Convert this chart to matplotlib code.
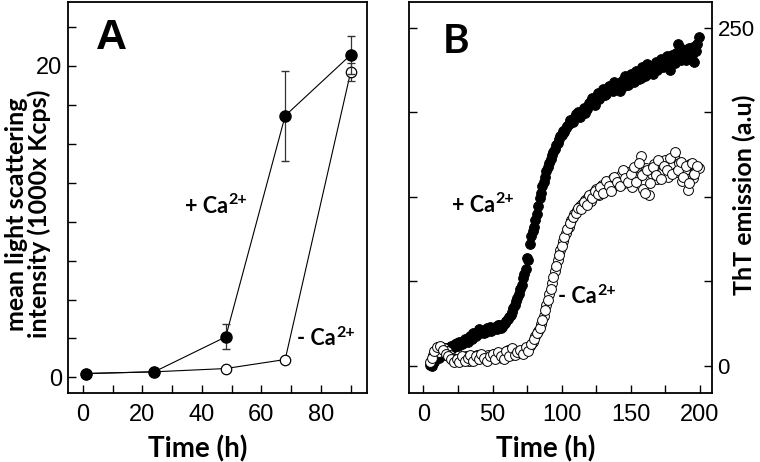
import matplotlib
matplotlib.use('Agg')
import matplotlib.pyplot as plt

# Panel A: mean light scattering intensity
time_a = [1, 24, 48, 68, 90]
plus_a = [0.25, 0.36, 2.6, 16.8, 20.7]
plus_a_err = [0.05, 0.05, 0.8, 2.9, 1.2]
minus_a = [0.25, 0.36, 0.57, 1.15, 19.6]
minus_a_err = [0.05, 0.05, 0.1, 0.1, 0.6]

# Panel B: ThT emission, read at odd and even hours
time_b_odd = [5, 7, 9, 11, 13, 15, 17, 19, 21, 23, 25, 27, 29, 31, 33, 35, 37, 39, 41, 43,
              45, 47, 49, 51, 53, 55, 57, 59, 61, 63, 65, 67, 69, 71, 73, 75, 77, 79, 81, 83,
              85, 87, 89, 91, 93, 95, 97, 99, 101, 103, 105, 107, 109, 111, 113, 115, 117, 119, 121, 123,
              125, 127, 129, 131, 133, 135, 137, 139, 141, 143, 145, 147, 149, 151, 153, 155, 157, 159, 161, 163,
              165, 167, 169, 171, 173, 175, 177, 179, 181, 183, 185, 187, 189, 191, 193, 195, 197, 199]
plus_b_odd = [1, 4, 8, 6, 10, 12, 11, 14, 13, 16, 15, 18, 17, 19, 21, 20, 23, 25, 24, 26,
              25, 27, 26, 28, 27, 30, 29, 32, 35, 38, 43, 48, 53, 60, 68, 80, 90, 100, 108, 118,
              128, 136, 144, 150, 156, 160, 165, 170, 174, 176, 179, 181, 183, 185, 184, 188, 187, 192, 196, 195,
              199, 197, 202, 200, 204, 206, 203, 208, 205, 210, 207, 212, 209, 214, 211, 216, 213, 219, 215, 220,
              217, 222, 219, 224, 221, 226, 223, 228, 225, 231, 227, 234, 229, 232, 228, 236, 233, 243]
minus_b_odd = [3, 8, 12, 10, 14, 13, 11, 8, 6, 5, 4, 6, 5, 7, 4, 6, 5, 8, 6, 7,
               5, 8, 6, 9, 7, 8, 6, 9, 12, 8, 10, 9, 11, 10, 12, 13, 15, 18, 22, 26,
               31, 37, 45, 53, 61, 70, 78, 86, 92, 98, 103, 108, 112, 115, 118, 120, 123, 125, 122, 128,
               131, 126, 134, 130, 136, 132, 139, 134, 137, 141, 135, 143, 138, 132, 144, 140, 155, 131, 146, 126,
               142, 149, 138, 150, 144, 152, 140, 148, 155, 143, 150, 137, 145, 130, 149, 139, 147, 146]

time_b_even = [6, 8, 10, 12, 14, 16, 18, 20, 22, 24, 26, 28, 30, 32, 34, 36, 38, 40, 42, 44,
               46, 48, 50, 52, 54, 56, 58, 60, 62, 64, 66, 68, 70, 72, 74, 76, 78, 80, 82, 84,
               86, 88, 90, 92, 94, 96, 98, 100, 102, 104, 106, 108, 110, 112, 114, 116, 118, 120, 122, 124,
               126, 128, 130, 132, 134, 136, 138, 140, 142, 144, 146, 148, 150, 152, 154, 156, 158, 160, 162, 164,
               166, 168, 170, 172, 174, 176, 178, 180, 182, 184, 186, 188, 190, 192, 194, 196, 198]
plus_b_even = [0, 3, 7, 9, 8, 13, 12, 15, 14, 17, 18, 16, 20, 18, 22, 24, 22, 27, 26, 24,
               28, 29, 27, 29, 30, 28, 31, 33, 36, 40, 45, 50, 57, 65, 72, 78, 96, 103, 112, 124,
               133, 140, 147, 153, 158, 163, 168, 171, 173, 177, 182, 180, 186, 188, 186, 191, 190, 194, 198, 193,
               202, 199, 205, 201, 207, 204, 210, 206, 203, 211, 214, 208, 216, 210, 218, 212, 221, 214, 223, 218,
               216, 225, 220, 227, 222, 229, 219, 230, 224, 238, 226, 232, 226, 235, 230, 225, 238]
minus_b_even = [6, 11, 14, 15, 12, 9, 7, 5, 3, 5, 3, 7, 4, 6, 8, 4, 7, 5, 9, 6,
                4, 7, 9, 5, 10, 7, 5, 11, 7, 13, 8, 10, 12, 9, 14, 11, 16, 20, 24, 28,
                34, 41, 49, 57, 66, 74, 82, 89, 95, 101, 106, 110, 113, 117, 116, 121, 119, 126, 124, 129,
                127, 132, 128, 137, 133, 129, 140, 136, 133, 145, 139, 136, 142, 147, 136, 150, 141, 128, 145, 135,
                147, 141, 152, 138, 148, 145, 154, 142, 158, 145, 151, 140, 148, 135, 150, 142, 148]

fig = plt.figure(figsize=(7.6, 4.62), dpi=100)
ax1 = fig.add_axes([68 / 760, 69 / 462, 299 / 760, 391 / 462])
ax2 = fig.add_axes([409 / 760, 69 / 462, 303 / 760, 391 / 462])

label_font = dict(family='Lato', weight='bold')


def ca_label(ax, x, y, sign):
    # "+ Ca" / "- Ca" with a raised "2+"
    t = ax.text(x, y, sign + ' Ca', fontsize=15.5, ha='left', va='center', **label_font)
    ax.annotate('2+', xy=(1.02, 0.78), xycoords=t, fontsize=11.5, ha='left', va='center',
                **label_font)


def style_ticks(ax, xsize, ysize):
    for lab in ax.get_xticklabels():
        lab.set_fontfamily('Liberation Sans')
        lab.set_fontsize(xsize)
    for lab in ax.get_yticklabels():
        lab.set_fontfamily('Liberation Sans')
        lab.set_fontsize(ysize)


# ---- Panel A ----
ax1.plot(time_a, plus_a, color='black', lw=0.8, zorder=2)
ax1.plot(time_a, minus_a, color='black', lw=0.8, zorder=2)
ax1.errorbar(time_a, minus_a, yerr=minus_a_err, fmt='o', ms=7.5, mfc='white', mec='black',
             mew=0.9, ecolor='#333333', elinewidth=0.9, capsize=3, zorder=3)
ax1.errorbar(time_a, plus_a, yerr=plus_a_err, fmt='o', ms=8, mfc='black', mec='black',
             ecolor='#333333', elinewidth=0.9, capsize=3, zorder=4)

ax1.set_xlim(-5, 95.5)
ax1.set_ylim(-1, 24.1)
ax1.set_xticks([0, 20, 40, 60, 80])
ax1.set_xticks([10, 30, 50, 70, 90], minor=True)
yt = [0, 2.5, 5, 7.5, 10, 12.5, 15, 17.5, 20, 22.5]
ax1.set_yticks(yt)
ax1.set_yticklabels(['0' if v == 0 else ('20' if v == 20 else '') for v in yt])
ax1.tick_params(axis='both', which='both', direction='in', length=6, width=1,
                top=False, right=False)
ax1.tick_params(axis='x', pad=8)
ax1.tick_params(axis='y', pad=4)
style_ticks(ax1, 17, 17)
ax1.set_xlabel('Time (h)', fontsize=20, **label_font)
ax1.xaxis.set_label_coords(0.433, -0.108)
ax1.set_ylabel('mean light scattering\nintensity (1000x Kcps)', fontsize=18,
               linespacing=0.95, **label_font)
ax1.yaxis.set_label_coords(-0.058, 0.458)

ax1.text(0.144, 0.907, 'A', transform=ax1.transAxes, fontsize=31, fontweight='bold',
         family='Liberation Sans', ha='center', va='center')
ca_label(ax1, 34.3, 11.0, '+')
ca_label(ax1, 72, 2.5, '-')

# ---- Panel B ----
ax2.scatter(time_b_odd + time_b_even, plus_b_odd + plus_b_even, s=50, c='black',
            edgecolors='black', linewidths=0.6, zorder=2)
ax2.scatter(time_b_odd + time_b_even, minus_b_odd + minus_b_even, s=50, c='white',
            edgecolors='black', linewidths=0.7, zorder=3)

ax2.set_xlim(-10.4, 208.7)
ax2.set_ylim(-20, 269)
ax2.set_xticks([0, 50, 100, 150, 200])
ax2.set_xticks([25, 75, 125, 175], minor=True)
ytb = [0, 62.5, 125, 187.5, 250]
ax2.set_yticks(ytb)
ax2.set_yticklabels(['0', '', '', '', '250'])
ax2.yaxis.tick_right()
ax2.yaxis.set_label_position('right')
ax2.tick_params(axis='both', which='both', direction='in', length=6, width=1)
ax2.tick_params(axis='y', left=True, right=True, labelleft=False, labelright=True, pad=4)
ax2.tick_params(axis='x', pad=8)
style_ticks(ax2, 17, 16)
ax2.set_xlabel('Time (h)', fontsize=20, **label_font)
ax2.xaxis.set_label_coords(0.45, -0.108)
ax2.set_ylabel('ThT emission (a.u)', fontsize=18, rotation=90, **label_font)
ax2.yaxis.set_label_coords(1.068, 0.506)

ax2.text(0.155, 0.90, 'B', transform=ax2.transAxes, fontsize=29, fontweight='bold',
         family='Lato', ha='center', va='center')
ca_label(ax2, 20.7, 118.7, '+')
ca_label(ax2, 97.4, 51, '-')

for ax in (ax1, ax2):
    for sp in ax.spines.values():
        sp.set_linewidth(1.3)
        sp.set_color('black')

plt.savefig('out.png', dpi=100)
plt.close()
